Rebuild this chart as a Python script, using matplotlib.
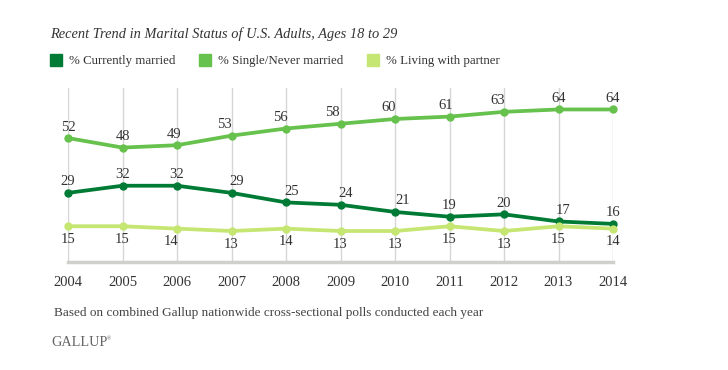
import matplotlib
matplotlib.use("Agg")
import matplotlib.pyplot as plt

years = [2004, 2005, 2006, 2007, 2008, 2009, 2010, 2011, 2012, 2013, 2014]
married = [29, 32, 32, 29, 25, 24, 21, 19, 20, 17, 16]
single = [52, 48, 49, 53, 56, 58, 60, 61, 63, 64, 64]
partner = [15, 15, 14, 13, 14, 13, 13, 15, 13, 15, 14]
series_names = ["% Currently married", "% Single/Never married", "% Living with partner"]

# label nudges in pixels (layout only)
married_dx = [0, 0, 0, 5, 6, 5, 8, 0, 0, 5, 0]
single_dx = [0, 0, -3, -7, -6, -8, -6, -4, -6, 0, 0]
partner_dx = [0, 0, -6, 0, 0, 0, 0, 0, 0, 0, 0]

colors = ["#007b36", "#66c14d", "#c5e672"]
serif = ["Liberation Serif", "DejaVu Serif"]
txt = "#333333"

W, H = 728, 370
fig = plt.figure(figsize=(W / 100, H / 100), dpi=100)
ax = fig.add_axes([68 / W, (H - 262) / H, (613 - 68) / W, (262 - 88) / H])
ax.set_xlim(years[0], years[-1])
ax.set_ylim(0, 73)
for s in ax.spines.values():
    s.set_visible(False)
ax.set_yticks([])
ax.set_xticks(years)
ax.set_xticklabels([str(y) for y in years], family=serif, fontsize=10.5, color=txt)
ax.tick_params(axis="x", length=0, pad=10)
for y in years:
    ax.axvline(y, color="#d6d6d6", lw=1, zorder=0)
ax.axhline(0, color="#cfcfcb", lw=2.5, zorder=1, clip_on=False)

data = [married, single, partner]
dxs = [married_dx, single_dx, partner_dx]
for vals, c, above, dx in zip(data, colors, [True, True, False], dxs):
    ax.plot(years, vals, color=c, lw=2.7, marker="o", ms=5, zorder=3, clip_on=False)
    for x, v, d in zip(years, vals, dx):
        ax.annotate(str(v), (x, v), xytext=(d, 11 if above else -13),
                    textcoords="offset pixels", ha="center", va="center",
                    family=serif, fontsize=10.5, color=txt)

fig.text(50 / W, 1 - 38 / H, "Recent Trend in Marital Status of U.S. Adults, Ages 18 to 29",
         family=serif, style="italic", fontsize=10.4, color=txt, va="baseline")

leg_x = [50, 199, 367]
for lx, c, name in zip(leg_x, colors, series_names):
    fig.patches.append(plt.Rectangle((lx / W, 1 - 66 / H), 12 / W, 12 / H,
                                     transform=fig.transFigure, color=c))
    fig.text((lx + 19) / W, 1 - 64 / H, name, family=serif, fontsize=9.3,
             color=txt, va="baseline")

fig.text(54 / W, 1 - 316 / H,
         "Based on combined Gallup nationwide cross-sectional polls conducted each year",
         family=serif, fontsize=9.5, color="#444444", va="baseline")
fig.text(51 / W, 1 - 346 / H, "GALLUP", family=serif, fontsize=10.3,
         color="#666666", va="baseline")
fig.text(107 / W, 1 - 340 / H, "\u00ae", family=serif, fontsize=4,
         color="#666666", va="baseline")

fig.savefig("out.png", dpi=100, facecolor="white")
